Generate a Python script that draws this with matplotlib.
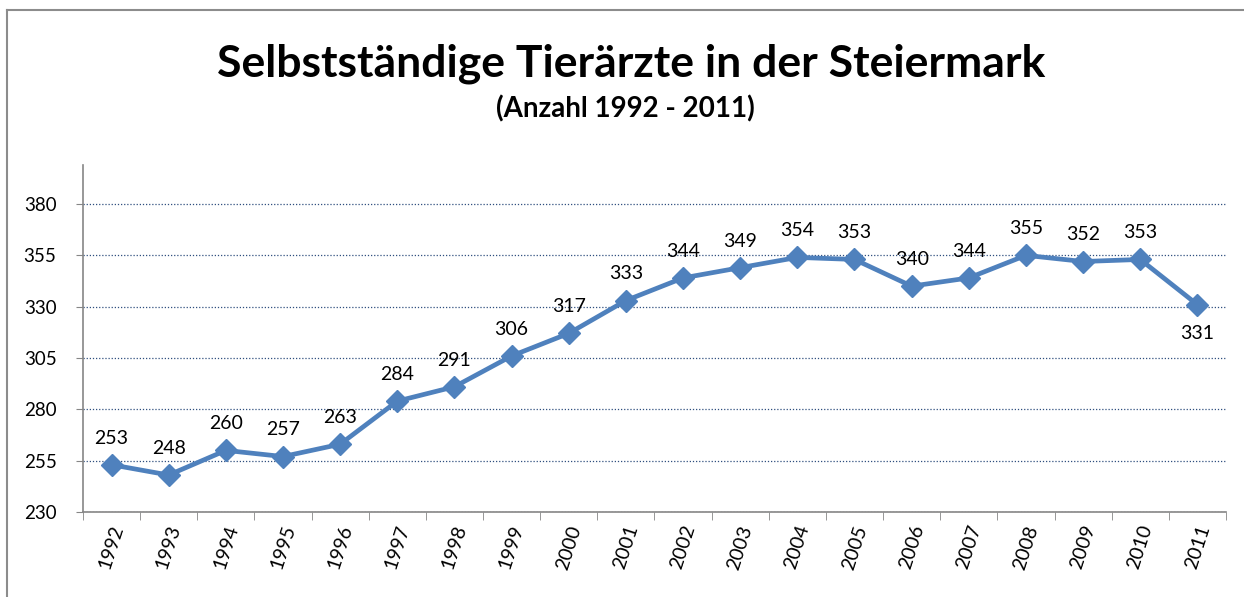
import matplotlib.pyplot as plt
import numpy as np
from matplotlib.lines import Line2D

years = ['1992', '1993', '1994', '1995', '1996', '1997', '1998', '1999', '2000', '2001',
         '2002', '2003', '2004', '2005', '2006', '2007', '2008', '2009', '2010', '2011']
counts = [253, 248, 260, 257, 263, 284, 291, 306, 317, 333,
          344, 349, 354, 353, 340, 344, 355, 352, 353, 331]
y_ticks = [230, 255, 280, 305, 330, 355, 380]

plt.rcParams['font.family'] = ['Lato', 'DejaVu Sans']

fig = plt.figure(figsize=(12.44, 5.97), dpi=100)
ax = fig.add_axes([0.0667, 0.1424, 0.9188, 0.5812])

x = np.arange(len(years))
ax.plot(x, counts, color='#4F81BD', linewidth=3.4, marker='D', markersize=11.5,
        zorder=3)

for xi, val in zip(x, counts):
    if val == counts[-1]:
        ax.annotate(str(val), (xi, val), xytext=(0, -15), textcoords='offset points',
                    ha='center', va='top', fontsize=14)
    else:
        ax.annotate(str(val), (xi, val), xytext=(0, 13), textcoords='offset points',
                    ha='center', va='bottom', fontsize=14)

ax.set_xlim(-0.5, len(years) - 0.5)
ax.set_ylim(230, 399)
ax.set_yticks(y_ticks)
ax.set_yticklabels([str(t) for t in y_ticks], fontsize=13.5)
ax.set_xticks(x)
ax.set_xticklabels(years, rotation=72, fontsize=14, ha='center', va='top')
ax.set_xticks(np.arange(-0.5, len(years), 1), minor=True)
ax.tick_params(axis='x', which='major', length=0, pad=8)
ax.tick_params(axis='x', which='minor', length=6, color='#868686', direction='out')
ax.tick_params(axis='y', length=5, color='#868686', pad=14)

ax.grid(axis='y', linestyle=(0, (1, 1.5)), color='#2F4F7F', linewidth=0.9)
ax.set_axisbelow(True)
for side in ['top', 'right']:
    ax.spines[side].set_visible(False)
for side in ['left', 'bottom']:
    ax.spines[side].set_color('#868686')
    ax.spines[side].set_linewidth(1.2)

fig.text(0.507, 0.893, 'Selbstständige Tierärzte in der Steiermark', ha='center',
         va='center', fontsize=32, fontweight='bold')
fig.text(0.503, 0.818, '(Anzahl 1992 - 2011)', ha='center', va='center',
         fontsize=20, fontweight='bold')

# image border (left and top)
fig.add_artist(Line2D([0.0056, 0.0056], [0, 0.983], transform=fig.transFigure,
                      color='#8C8C8C', linewidth=1.5))
fig.add_artist(Line2D([0.0056, 1], [0.983, 0.983], transform=fig.transFigure,
                      color='#8C8C8C', linewidth=1.5))

plt.savefig('out.png', dpi=100)
